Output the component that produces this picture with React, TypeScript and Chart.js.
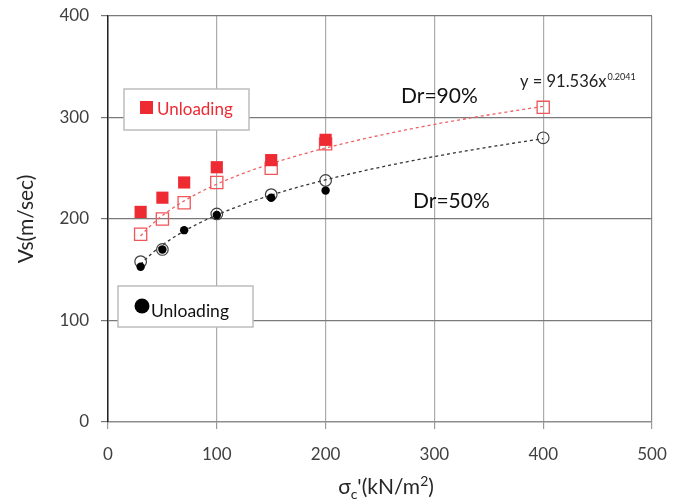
import { useEffect, useRef } from 'react';
import { Chart, registerables } from 'chart.js';

Chart.register(...registerables);

// ---- Data ----
const X_LOAD90 = [30, 50, 70, 100, 150, 200, 400];
const Y_LOAD90 = [185, 200, 216, 236, 250, 274, 310];
const X_UNLOAD90 = [30, 50, 70, 100, 150, 200];
const Y_UNLOAD90 = [207, 221, 236, 251, 258, 278];
const X_LOAD50 = [30, 50, 100, 150, 200, 400];
const Y_LOAD50 = [158, 170, 205, 224, 238, 280];
const X_UNLOAD50 = [30, 50, 70, 100, 150, 200];
const Y_UNLOAD50 = [153, 170, 189, 204, 221, 228];

const X_TICKS = [0, 100, 200, 300, 400, 500];
const Y_TICKS = [0, 100, 200, 300, 400];

// Trendline shown in the chart for Dr=90% (power fit)
const TREND90_A = 91.536;
const TREND90_B = 0.2041;
const TREND_LABEL = 'y = 91.536x';
const TREND_EXP = '0.2041';

const FONT = "Lato, 'Open Sans', sans-serif";
const RED = '#EE2A33';

// Least-squares power fit y = a*x^b (as Excel trendline) from data
function powerFit(xs: number[], ys: number[]) {
  const lx = xs.map(Math.log);
  const ly = ys.map(Math.log);
  const n = xs.length;
  const mx = lx.reduce((s, v) => s + v, 0) / n;
  const my = ly.reduce((s, v) => s + v, 0) / n;
  let sxy = 0;
  let sxx = 0;
  for (let i = 0; i < n; i++) {
    sxy += (lx[i] - mx) * (ly[i] - my);
    sxx += (lx[i] - mx) ** 2;
  }
  const b = sxy / sxx;
  return { a: Math.exp(my - b * mx), b };
}

function trendPoints(a: number, b: number, xs: number[]) {
  const x0 = Math.min(...xs);
  const x1 = Math.max(...xs);
  const pts: { x: number; y: number }[] = [];
  const steps = 120;
  for (let i = 0; i <= steps; i++) {
    const x = x0 + ((x1 - x0) * i) / steps;
    pts.push({ x, y: a * Math.pow(x, b) });
  }
  return pts;
}

const toPts = (xs: number[], ys: number[]) => xs.map((x, i) => ({ x, y: ys[i] }));

const overlayPlugin = {
  id: 'overlay',
  afterDatasetsDraw(chart: any) {
    const ctx: CanvasRenderingContext2D = chart.ctx;
    ctx.save();

    // Legend box: red unloading
    ctx.fillStyle = '#fff';
    ctx.strokeStyle = '#bdbdbd';
    ctx.lineWidth = 1.5;
    ctx.fillRect(124, 89, 125, 41);
    ctx.strokeRect(124, 89, 125, 41);
    ctx.fillStyle = RED;
    ctx.fillRect(140, 101, 13, 13);
    ctx.font = `17px ${FONT}`;
    ctx.textBaseline = 'alphabetic';
    ctx.textAlign = 'left';
    ctx.fillText('Unloading', 157, 115);

    // Legend box: black unloading
    ctx.fillStyle = '#fff';
    ctx.fillRect(118, 286, 135, 41);
    ctx.strokeRect(118, 286, 135, 41);
    ctx.fillStyle = '#000';
    ctx.beginPath();
    ctx.arc(142, 306, 7.5, 0, Math.PI * 2);
    ctx.fill();
    ctx.fillStyle = '#111';
    ctx.font = `17.5px ${FONT}`;
    ctx.fillText('Unloading', 151, 317);

    // Annotations
    ctx.fillStyle = '#111';
    ctx.font = `21px ${FONT}`;
    ctx.fillText('Dr=90%', 401, 103);
    ctx.fillText('Dr=50%', 413, 208);

    ctx.font = `16.5px ${FONT}`;
    ctx.fillStyle = '#222';
    ctx.fillText(TREND_LABEL, 520, 87);
    const w = ctx.measureText(TREND_LABEL).width;
    ctx.font = `9px ${FONT}`;
    ctx.fillText(TREND_EXP, 520 + w + 1, 80);

    ctx.restore();
  },
  afterDraw(chart: any) {
    const ctx: CanvasRenderingContext2D = chart.ctx;
    ctx.save();
    ctx.fillStyle = '#262626';
    // Y title
    ctx.translate(33, 219);
    ctx.rotate(-Math.PI / 2);
    ctx.font = `21px ${FONT}`;
    ctx.textAlign = 'center';
    ctx.textBaseline = 'alphabetic';
    ctx.fillText('Vs(m/sec)', 0, 0);
    ctx.restore();

    // X title with sub/superscript
    ctx.save();
    ctx.fillStyle = '#262626';
    ctx.textAlign = 'left';
    ctx.textBaseline = 'alphabetic';
    const parts: [string, number, number][] = [
      ['σ', 21, 0],
      ['c', 14, 5],
      ["'(kN/m", 21, 0],
      ['2', 14, -8],
      [')', 21, 0],
    ];
    let total = 0;
    for (const [t, s] of parts) {
      ctx.font = `${s}px ${FONT}`;
      total += ctx.measureText(t).width;
    }
    let x = 386 - total / 2;
    const base = 494;
    for (const [t, s, dy] of parts) {
      ctx.font = `${s}px ${FONT}`;
      ctx.fillText(t, x, base + dy);
      x += ctx.measureText(t).width;
    }
    ctx.restore();
  },
};

export default function App() {
  const ref = useRef<HTMLCanvasElement>(null);
  useEffect(() => {
    document.body.style.margin = '0';
    const fit50 = powerFit(X_LOAD50, Y_LOAD50);
    const chart = new Chart(ref.current!, {
      type: 'scatter',
      data: {
        datasets: [
          {
            label: 'Unloading Dr=90%',
            data: toPts(X_UNLOAD90, Y_UNLOAD90),
            pointStyle: 'rect',
            pointRadius: 8.6,
            backgroundColor: RED,
            borderColor: RED,
            borderWidth: 0,
          },
          {
            label: 'Unloading Dr=50%',
            data: toPts(X_UNLOAD50, Y_UNLOAD50),
            pointStyle: 'circle',
            pointRadius: 4.2,
            backgroundColor: '#000',
            borderColor: '#000',
            borderWidth: 0,
          },
          {
            label: 'Loading Dr=90%',
            data: toPts(X_LOAD90, Y_LOAD90),
            pointStyle: 'rect',
            pointRadius: 8.6,
            backgroundColor: 'rgba(255,255,255,0)',
            borderColor: '#F0555A',
            borderWidth: 1.3,
          },
          {
            label: 'Loading Dr=50%',
            data: toPts(X_LOAD50, Y_LOAD50),
            pointStyle: 'circle',
            pointRadius: 5.8,
            backgroundColor: 'rgba(255,255,255,0)',
            borderColor: '#404040',
            borderWidth: 1.2,
          },
          {
            label: 'Trend 90',
            data: trendPoints(TREND90_A, TREND90_B, X_LOAD90),
            showLine: true,
            pointRadius: 0,
            borderColor: '#EF5F63',
            borderWidth: 1.3,
            borderDash: [3, 3],
          },
          {
            label: 'Trend 50',
            data: trendPoints(fit50.a, fit50.b, X_LOAD50),
            showLine: true,
            pointRadius: 0,
            borderColor: '#333',
            borderWidth: 1.3,
            borderDash: [3, 3],
          },
        ],
      },
      options: {
        responsive: false,
        animation: false,
        events: [],
        layout: { padding: { left: 0, right: 36, top: 16, bottom: 0 } },
        plugins: { legend: { display: false }, tooltip: { enabled: false } },
        scales: {
          x: {
            type: 'linear',
            min: 0,
            max: 500,
            afterBuildTicks: (s: any) => {
              s.ticks = X_TICKS.map((v) => ({ value: v }));
            },
            afterFit: (s: any) => {
              s.height = 82;
              s.paddingLeft = 0;
              s.paddingRight = 0;
            },
            ticks: {
              color: '#404040',
              font: { family: FONT, size: 17 },
              padding: 15,
              maxRotation: 0,
            },
            grid: {
              color: (c: any) => (c.tick && c.tick.value === 500 ? '#8a8a8a' : '#ababab'),
              tickColor: '#999',
              tickLength: 7,
              lineWidth: 1.2,
            },
            border: { color: '#8c8c8c', width: 1.3 },
          },
          y: {
            type: 'linear',
            min: 0,
            max: 400,
            afterBuildTicks: (s: any) => {
              s.ticks = Y_TICKS.map((v) => ({ value: v }));
            },
            afterFit: (s: any) => {
              s.width = 108;
              s.paddingTop = 0;
              s.paddingBottom = 0;
            },
            ticks: {
              color: '#404040',
              font: { family: FONT, size: 17 },
              padding: 12,
            },
            grid: {
              color: '#7a7a7a',
              tickColor: '#777',
              tickLength: 7,
              lineWidth: 1.2,
            },
            border: { color: '#222', width: 1.5 },
          },
        },
      },
      plugins: [overlayPlugin],
    } as any);
    return () => chart.destroy();
  }, []);
  return (
    <div style={{ width: 688, height: 504, background: '#fff' }}>
      <canvas ref={ref} width={688} height={504} style={{ display: 'block' }} />
    </div>
  );
}
